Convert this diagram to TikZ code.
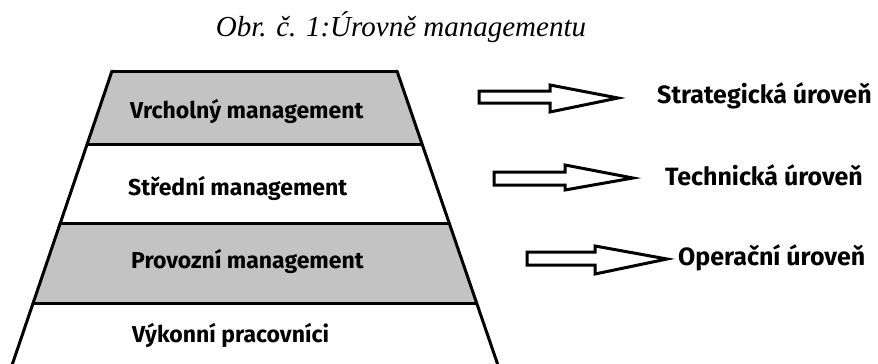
\documentclass[tikz,border=0pt]{standalone}
\usepackage{fontspec}
\setmainfont{Liberation Serif}
\newfontfamily\labelfont{Fira Sans}
\begin{document}
\begin{tikzpicture}[x=1pt,y=-1pt,
  edge/.style={line width=3pt,line cap=round},
  levellabel/.style={font=\labelfont\bfseries\fontsize{23}{26}\selectfont,anchor=base west,inner sep=0pt},
  sidelabel/.style={font=\labelfont\bfseries\fontsize{25}{28}\selectfont,anchor=base west,inner sep=0pt},
  blockarrow/.style={draw=black,line width=3pt,fill=white,line join=miter}]
\useasboundingbox (0,0) rectangle (878,364);
\fill[white] (0,0) rectangle (878,364);
\begin{scope}
\clip (0,0) rectangle (878,364);
% shaded bands of the pyramid
\fill[gray!47] (112,71) -- (397,71) -- (422,144) -- (87,144) -- cycle;
\fill[gray!47] (60,223) -- (449,223) -- (476,303) -- (33,303) -- cycle;
% outline and dividing lines
\draw[edge] (112,71) -- (397,71);
\draw[edge] (112,71) -- (9,374);
\draw[edge] (397,71) -- (501,374);
\draw[edge] (87,144) -- (422,144);
\draw[edge] (60,223) -- (449,223);
\draw[edge] (33,303) -- (476,303);
\end{scope}
% title
\node[font=\itshape\fontsize{29}{34}\selectfont,inner sep=0pt,anchor=base] (title) at (401,36) {Obr. č. 1:Úrovně managementu};
% level labels
\node[levellabel] (top) at (130,118) {Vrcholný management};
\node[levellabel] (mid) at (128,195) {Střední management};
\node[levellabel] (ops) at (131,268) {Provozní management};
\node[levellabel] (work) at (132,342) {Výkonní pracovníci};
% block arrows
\draw[blockarrow] (479,91) -- (550,91) -- (550,85) -- (618,98) -- (550,112) -- (550,103) -- (479,103) -- cycle;
\draw[blockarrow] (494,172) -- (565,172) -- (565,165) -- (633,178) -- (565,190) -- (565,185) -- (494,185) -- cycle;
\draw[blockarrow] (527,252) -- (595,252) -- (595,246) -- (667,259) -- (595,274) -- (595,265) -- (527,265) -- cycle;
% level names
\node[sidelabel] (strat) at (657,103) {Strategická úroveň};
\node[sidelabel] (tech) at (665,185) {Technická úroveň};
\node[sidelabel] (oper) at (678,265) {Operační úroveň};
\end{tikzpicture}
\end{document}
